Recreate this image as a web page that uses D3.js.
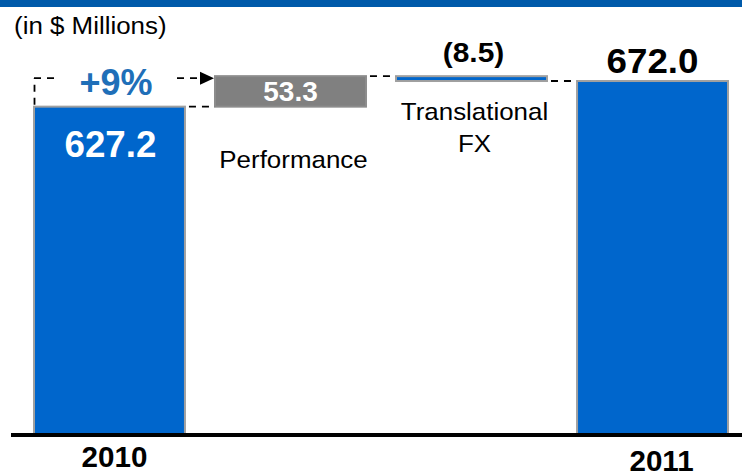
<!DOCTYPE html>
<html>
<head>
<meta charset="utf-8">
<title>Revenue bridge 2010-2011</title>
<style>
  body { margin: 0; background: #fff; }
  text { font-family: "Liberation Sans", Arial, sans-serif; }
</style>
<script src="https://d3js.org/d3.v7.min.js"></script>
</head>
<body>
<svg id="chart" width="742" height="471"></svg>
<script>
// data
var categories = ["2010", "Performance", "Translational FX", "2011"];
var values = [627.2, 53.3, -8.5, 672.0];
var kinds = ["total", "delta", "delta", "total"];
var valueLabels = ["627.2", "53.3", "(8.5)", "672.0"];
var catLabels = [["2010"], ["Performance"], ["Translational", "FX"], ["2011"]];
var growthLabel = "+9%";
var unitLabel = "(in $ Millions)";

var svg = d3.select("#chart");
var W = 742, H = 471;
var base = 434;

// waterfall start / end for each bar
var run = 0;
var bars = categories.map(function (c, i) {
  var b;
  if (kinds[i] == "total") { b = { y0: 0, y1: values[i] }; run = values[i]; }
  else { b = { y0: run, y1: run + values[i] }; run += values[i]; }
  b.cat = c; b.kind = kinds[i]; b.i = i;
  return b;
});

var x = d3.scaleBand().domain(categories).range([34, 728]).paddingInner(0.166).paddingOuter(0);
// axis is broken in the original, so the scale does not start at zero
var y = d3.scaleLinear().domain([55, 700]).range([base, 65]);
function yv(v) { return v <= 55 ? base : y(v); }

var blue = "#0066cc", grey = "#808080", edge = "#a0a0a0";

// top band
svg.append("rect").attr("x", 0).attr("y", 0).attr("width", W).attr("height", 7).attr("fill", "#005aaa");

// bars
svg.selectAll("rect.bar").data(bars).enter().append("rect")
  .attr("class", "bar")
  .attr("x", function (d) { return x(d.cat); })
  .attr("width", x.bandwidth())
  .attr("y", function (d) { return Math.min(yv(d.y0), yv(d.y1)); })
  .attr("height", function (d) { return Math.abs(yv(d.y0) - yv(d.y1)); })
  .attr("fill", function (d) { return d.i == 1 ? grey : blue; })
  .attr("stroke", function (d) { return d.i == 1 ? "#8c8c8c" : edge; })
  .attr("stroke-width", 2);

// baseline
svg.append("line").attr("x1", 11).attr("x2", W).attr("y1", base + 1).attr("y2", base + 1)
  .attr("stroke", "#000").attr("stroke-width", 4);

// dashed connectors
function dash(x1, y1, x2, y2) {
  svg.append("line").attr("x1", x1).attr("y1", y1).attr("x2", x2).attr("y2", y2)
    .attr("stroke", "#000").attr("stroke-width", 1.8).attr("stroke-dasharray", "7,6");
}
for (var i = 0; i < bars.length - 1; i++) {
  var xr = x(categories[i]) + x.bandwidth(), xl = x(categories[i + 1]);
  var level = yv(bars[i].y1);
  dash(xr + 4, level, xl, level);
}

// +9% bracket with arrow
var b0 = x(categories[0]);
var topY = y(bars[1].y1) + 2;
var arrowTip = x(categories[1]) - 1;
dash(b0 + 0.5, yv(bars[0].y1) - 2, b0 + 0.5, topY);
dash(b0, topY, b0 + 26, topY);
dash(b0 + 143, topY, arrowTip - 13, topY);
svg.append("path")
  .attr("d", "M" + (arrowTip - 14) + "," + (topY - 6.5) + "L" + arrowTip + "," + topY + "L" + (arrowTip - 14) + "," + (topY + 6.5) + "Z")
  .attr("fill", "#000");

function label(txt, cx, by, size, weight, fill, sx) {
  svg.append("text")
    .attr("transform", "translate(" + cx + "," + by + ") scale(" + sx + ",1)")
    .attr("text-anchor", "middle")
    .attr("font-size", size).attr("font-weight", weight).attr("fill", fill)
    .text(txt);
}

svg.append("text").attr("transform", "translate(14,34) scale(1.08,1)")
  .attr("font-size", 24).attr("fill", "#000").text(unitLabel);

var bw = x.bandwidth();
function cx(i) { return x(categories[i]) + bw / 2; }

// value labels
label(valueLabels[0], cx(0) + 1, 157, 36, "bold", "#fff", 1.02);
label(valueLabels[1], cx(1), 100.5, 28, "bold", "#fff", 1);
label(valueLabels[2], cx(2) + 2, 62, 28, "bold", "#000", 1.07);
label(valueLabels[3], cx(3), 73, 35, "bold", "#000", 1.05);
label(growthLabel, cx(0) + 6.5, 95, 36, "bold", "#1f6fb8", 1);

// category labels
label(catLabels[0][0], cx(0) + 5, 467, 29, "bold", "#000", 1.02);
label(catLabels[3][0], cx(3) + 9, 471, 29, "bold", "#000", 1.02);
label(catLabels[1][0], cx(1) + 3, 168, 24, "normal", "#000", 1.08);
label(catLabels[2][0], cx(2) + 3, 120, 24, "normal", "#000", 1.08);
label(catLabels[2][1], cx(2) + 3, 151.5, 24, "normal", "#000", 1.08);
</script>
</body>
</html>
